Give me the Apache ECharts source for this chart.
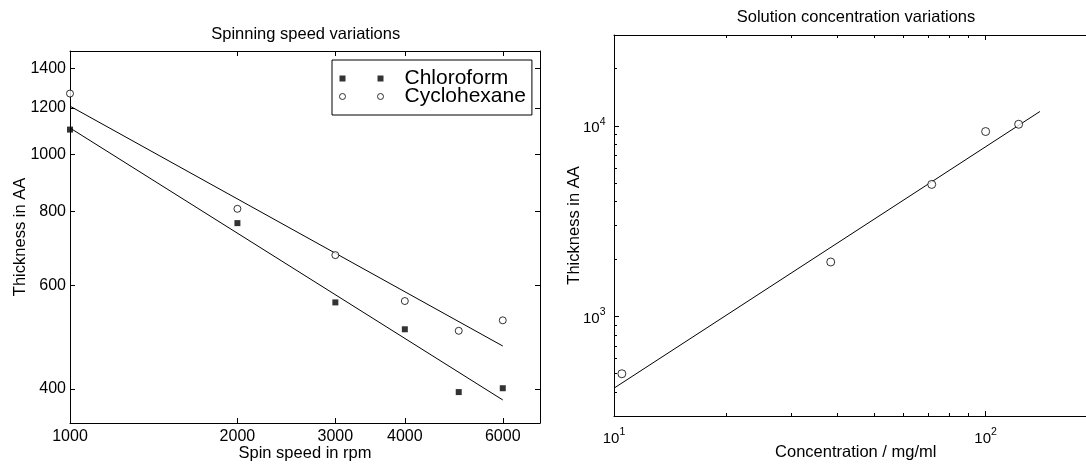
<!DOCTYPE html>
<html>
<head>
<meta charset="utf-8">
<script src="https://cdn.jsdelivr.net/npm/echarts@6/dist/echarts.min.js"></script>
<style>
html,body{margin:0;padding:0;background:#fff;}
#chart{width:1086px;height:464px;}
</style>
</head>
<body>
<div id="chart"></div>
<script>
// ---- Left panel: spinning speed variations ----
const spinSpeed = [1000, 2000, 3000, 4000, 5000, 6000];
const chloroform = [1103, 765, 561, 505, 395, 401];
const cyclohexane = [1270, 809, 675, 564, 502, 523];
const fitSpeed = [1000, 6000];
const chloroformFit = [1110, 383];
const cyclohexaneFit = [1209, 473];
const spinTicks = [1000, 2000, 3000, 4000, 6000];
const thicknessTicks = [400, 600, 800, 1000, 1200, 1400];
const spinRange = [1000, 7000];
const thicknessRange = [350, 1500];

// ---- Right panel: solution concentration variations ----
const concentration = [10.5, 38.3, 71.6, 100, 122.7];
const concThickness = [500, 1930, 4930, 9340, 10200];
const concFitX = [10, 140];
const concFitY = [420, 11900];
const concMajorTicks = [10, 100];
const concMinorTicks = [20, 30, 40, 50, 60, 70, 80, 90, 200];
const concThickMajorTicks = [1000, 10000];
const concThickMinorTicks = [400, 500, 600, 700, 800, 900, 2000, 3000, 4000, 5000, 6000, 7000, 8000, 9000, 20000];
const concRange = [10, 200];
const concThickRange = [300, 30000];

const L = Math.log10;
const pairs = (xs, ys) => xs.map((x, i) => [L(x), L(ys[i])]);
const FONT = 'Liberation Sans, Arial, Helvetica, sans-serif';
const BLACK = '#000';

function axis(o) {
  const a = {
    type: 'value',
    gridIndex: o.grid,
    position: o.position,
    min: L(o.range[0]),
    max: L(o.range[1]),
    axisLine: { show: o.line !== false, onZero: false, lineStyle: { color: BLACK, width: 1 } },
    axisTick: { show: true, inside: true, length: o.tickLen || 5, customValues: o.ticks.map(L), lineStyle: { color: BLACK, width: 1 } },
    axisLabel: { show: false },
    splitLine: { show: false },
    minorTick: { show: false },
    nameMoveOverlap: false
  };
  if (o.labels) {
    a.axisLabel = Object.assign({
      show: true,
      customValues: o.ticks.map(L),
      color: BLACK,
      fontFamily: FONT,
      fontSize: 16,
      showMinLabel: true,
      showMaxLabel: true,
      hideOverlap: false
    }, o.labels);
  }
  if (o.name) {
    a.name = o.name;
    a.nameLocation = 'middle';
    a.nameGap = o.nameGap;
    a.nameTextStyle = { color: BLACK, fontFamily: FONT, fontSize: 16.5 };
  }
  return a;
}

const linFmt = v => String(Math.round(Math.pow(10, v)));
const powFmt = v => '{b|10}{s|' + Math.round(v) + '}';
const powRich = {
  b: { fontFamily: FONT, fontSize: 15, color: BLACK, lineHeight: 19, verticalAlign: 'bottom' },
  s: { fontFamily: FONT, fontSize: 10.5, color: BLACK, lineHeight: 19, verticalAlign: 'top' }
};

const gridBase = { containLabel: false, outerBoundsMode: 'none' };

const option = {
  animation: false,
  backgroundColor: '#fff',
  title: [
    { text: 'Spinning speed variations', left: 305.7, top: 26, textAlign: 'center', padding: 0,
      textStyle: { color: BLACK, fontFamily: FONT, fontSize: 16.5, fontWeight: 'normal' } },
    { text: 'Solution concentration variations', left: 856, top: 8.6, textAlign: 'center', padding: 0,
      textStyle: { color: BLACK, fontFamily: FONT, fontSize: 16.5, fontWeight: 'normal' } }
  ],
  legend: {
    orient: 'vertical',
    left: 332,
    top: 60,
    padding: [8, 6, 8, 7],
    itemGap: -3,
    itemWidth: 44,
    itemHeight: 6,
    backgroundColor: '#fff',
    borderColor: BLACK,
    borderWidth: 1,
    borderRadius: 0,
    textStyle: { color: BLACK, fontFamily: FONT, fontSize: 21, padding: [0, 0, 0, 16] },
    data: [
      { name: 'Chloroform', icon: 'path://M0,0h6v6h-6z M38,0h6v6h-6z',
        itemStyle: { color: BLACK, borderWidth: 0 } },
      { name: 'Cyclohexane', icon: 'path://M0,3a3,3 0 1,0 6,0a3,3 0 1,0 -6,0z M38,3a3,3 0 1,0 6,0a3,3 0 1,0 -6,0z',
        itemStyle: { color: '#fff', borderColor: BLACK, borderWidth: 1 } }
    ]
  },
  grid: [
    Object.assign({ left: 70, top: 51, width: 470, height: 372 }, gridBase),
    Object.assign({ left: 614, top: 35, width: 483.5, height: 381 }, gridBase),
    Object.assign({ left: 614, top: 35, width: 483.5, height: 381 }, gridBase)
  ],
  xAxis: [
    axis({ grid: 0, position: 'bottom', range: spinRange, ticks: spinTicks,
      labels: { formatter: linFmt, margin: 6 }, name: 'Spin speed in rpm', nameGap: 21.5 }),
    axis({ grid: 0, position: 'top', range: spinRange, ticks: spinTicks }),
    axis({ grid: 1, position: 'bottom', range: concRange, ticks: concMajorTicks,
      labels: { formatter: powFmt, rich: powRich, margin: 11 }, name: 'Concentration / mg/ml', nameGap: 27.5 }),
    axis({ grid: 1, position: 'top', range: concRange, ticks: concMajorTicks }),
    axis({ grid: 2, position: 'bottom', range: concRange, ticks: concMinorTicks, tickLen: 3, line: false }),
    axis({ grid: 2, position: 'top', range: concRange, ticks: concMinorTicks, tickLen: 3, line: false })
  ],
  yAxis: [
    axis({ grid: 0, position: 'left', range: thicknessRange, ticks: thicknessTicks,
      labels: { formatter: linFmt, margin: 4 }, name: 'Thickness in AA', nameGap: 41.5 }),
    axis({ grid: 0, position: 'right', range: thicknessRange, ticks: thicknessTicks }),
    axis({ grid: 1, position: 'left', range: concThickRange, ticks: concThickMajorTicks,
      labels: { formatter: powFmt, rich: powRich, margin: 8.5 }, name: 'Thickness in AA', nameGap: 31 }),
    axis({ grid: 2, position: 'left', range: concThickRange, ticks: concThickMinorTicks, tickLen: 3, line: false })
  ],
  series: [
    { name: 'Chloroform fit', type: 'line', xAxisIndex: 0, yAxisIndex: 0, symbol: 'none', silent: true,
      lineStyle: { color: BLACK, width: 1 }, data: pairs(fitSpeed, chloroformFit), z: 2 },
    { name: 'Cyclohexane fit', type: 'line', xAxisIndex: 0, yAxisIndex: 0, symbol: 'none', silent: true,
      lineStyle: { color: BLACK, width: 1 }, data: pairs(fitSpeed, cyclohexaneFit), z: 2 },
    { name: 'Chloroform', type: 'scatter', xAxisIndex: 0, yAxisIndex: 0, symbol: 'rect', symbolSize: 6,
      itemStyle: { color: BLACK }, data: pairs(spinSpeed, chloroform), z: 3 },
    { name: 'Cyclohexane', type: 'scatter', xAxisIndex: 0, yAxisIndex: 0, symbol: 'circle', symbolSize: 7,
      itemStyle: { color: '#fff', borderColor: BLACK, borderWidth: 1 }, data: pairs(spinSpeed, cyclohexane), z: 3 },
    { name: 'Concentration fit', type: 'line', xAxisIndex: 2, yAxisIndex: 2, symbol: 'none', silent: true,
      lineStyle: { color: BLACK, width: 1 }, data: pairs(concFitX, concFitY), z: 2 },
    { name: 'Concentration', type: 'scatter', xAxisIndex: 2, yAxisIndex: 2, symbol: 'circle', symbolSize: 8,
      itemStyle: { color: '#fff', borderColor: BLACK, borderWidth: 1 }, data: pairs(concentration, concThickness), z: 3 }
  ]
};

const chart = echarts.init(document.getElementById('chart'), null, { renderer: 'canvas' });
chart.setOption(option);
</script>
</body>
</html>
